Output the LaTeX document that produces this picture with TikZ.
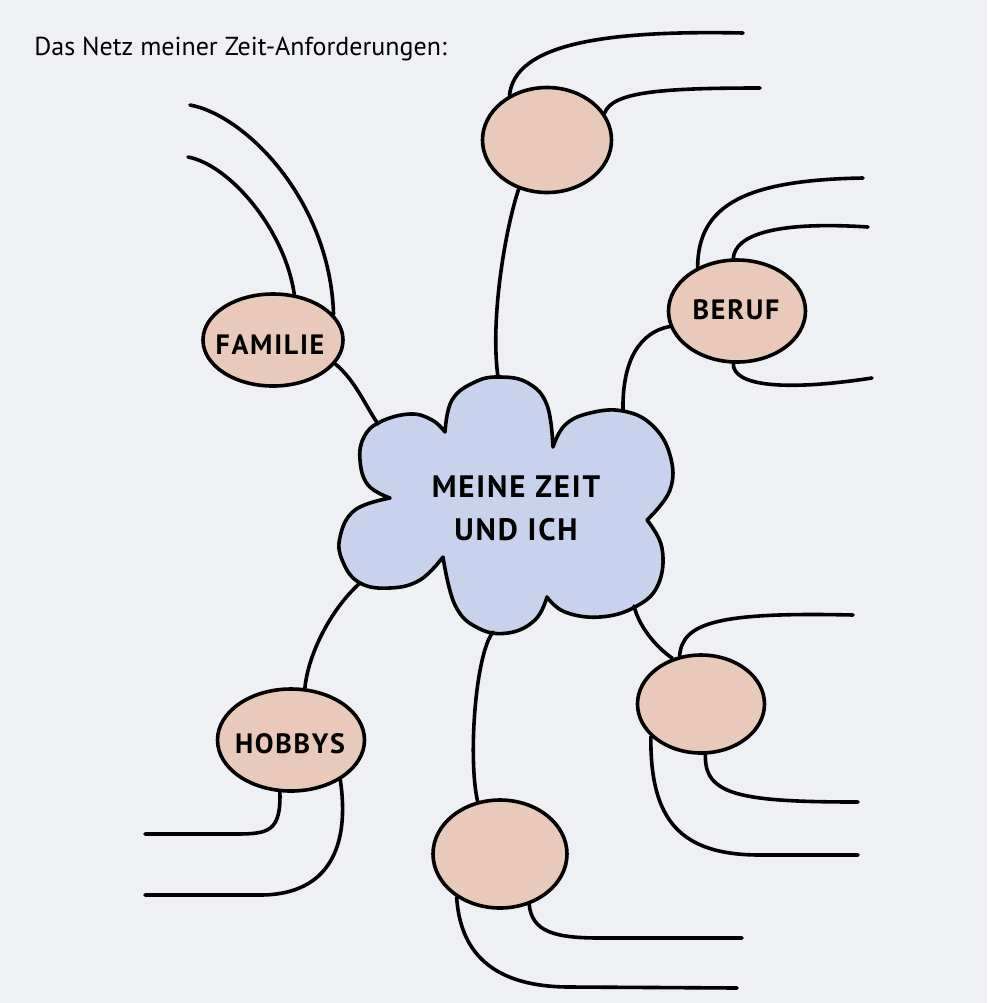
\documentclass[tikz,border=0pt]{standalone}
\usepackage{fontspec}
\setmainfont{PT Sans}
\newfontfamily\labfont[LetterSpace=6]{PT Sans}
\usetikzlibrary{shapes.geometric}
\definecolor{bg}{HTML}{EEF0F4}
\definecolor{pinkfill}{HTML}{E8C9BA}
\definecolor{cloudfill}{HTML}{C8D2EC}
\begin{document}
\begin{tikzpicture}[x=0.5pt,y=-0.5pt, line cap=round, line join=round,
  ell/.style={ellipse, draw, fill=pinkfill, line width=1.8pt, inner sep=0pt},
  lab/.style={inner sep=0pt, font=\labfont\fontsize{14}{16}\selectfont\bfseries},
  conn/.style={line width=1.8pt},
  cloudline/.style={draw, fill=cloudfill, line width=1.8pt}]
\fill[bg] (0,0) rectangle (987,1003);
\useasboundingbox (0,0) rectangle (987,1003);

% title
\node[anchor=base west, inner sep=0pt, font=\fontsize{13}{15}\selectfont] (title) at (34,55) {Das Netz meiner Zeit-Anforderungen:};

% cloud
\path[cloudline]
  plot[smooth, tension=0.7] coordinates {(390,498) (368,485) (360,460) (364,437) (380,422) (410,414) (432,420) (445,432)}
  -- plot[smooth, tension=0.7] coordinates {(445,432) (452,400) (475,382) (500,377) (528,383) (547,405) (553,447)}
  -- plot[smooth, tension=0.7] coordinates {(553,447) (565,425) (590,413) (623,411) (652,425) (670,455) (670,490) (647,520)}
  -- plot[smooth, tension=0.7] coordinates {(647,520) (662,548) (658,585) (635,607) (600,617) (565,612) (547,597)}
  -- plot[smooth, tension=0.7] coordinates {(547,597) (535,620) (508,633) (478,628) (455,605) (443,557)}
  -- plot[smooth, tension=0.7] coordinates {(443,557) (420,580) (390,588) (360,583) (343,562) (340,537) (355,510) (390,498)}
  -- cycle;
\node[align=center, inner sep=0pt, font=\labfont\fontsize{15.5}{21.5}\selectfont\bfseries] (cloud) at (516,508) {MEINE ZEIT\\UND ICH};

% cloud attachment points
\coordinate (cT) at (498,377);
\coordinate (cF) at (378,424);
\coordinate (cB) at (623,411);
\coordinate (cH) at (360,583);
\coordinate (cR) at (634,606);
\coordinate (cD) at (493,632);

% ellipses
\node[ell, minimum width=64.5pt, minimum height=52.5pt] (T) at (547,140) {};
\node[ell, minimum width=70pt, minimum height=46pt] (F) at (273,340) {};
\node[ell, minimum width=68.5pt, minimum height=51pt] (B) at (737,311) {};
\node[ell, minimum width=73.5pt, minimum height=51pt] (H) at (291,740) {};
\node[ell, minimum width=63.5pt, minimum height=49pt] (R) at (701,704) {};
\node[ell, minimum width=67pt, minimum height=54pt] (D) at (500,854) {};
\node[lab] (Flab) at (270,345) {FAMILIE};
\node[lab] (Blab) at (736,310) {BERUF};
\node[lab] (Hlab) at (290,744) {HOBBYS};

% free ends
\coordinate (t1) at (743,33);
\coordinate (t2) at (760,88);
\coordinate (f1) at (190,105);
\coordinate (f2) at (188,157);
\coordinate (b1) at (863,178);
\coordinate (b2) at (868,227);
\coordinate (b3) at (872,378);
\coordinate (h1) at (145,834);
\coordinate (h2) at (145,895);
\coordinate (r1) at (853,615);
\coordinate (r2) at (858,802);
\coordinate (r3) at (858,855);
\coordinate (d1) at (742,938);
\coordinate (d2) at (737,988);

% top
\draw[conn] (T.130) .. controls (515,45) and (600,30) .. (t1);
\draw[conn] (T.25) .. controls (612,92) and (660,88) .. (t2);
\draw[conn] (T.240) .. controls (505,230) and (490,320) .. (cT);
% familie
\draw[conn] (f1) .. controls (245,115) and (330,200) .. (F.23);
\draw[conn] (f2) .. controls (230,165) and (285,230) .. (F.65);
\draw[conn] (F.-21) .. controls (355,380) and (365,405) .. (cF);
% beruf
\draw[conn] (B.132) .. controls (698,205) and (745,180) .. (b1);
\draw[conn] (B.94) .. controls (735,235) and (775,221) .. (b2);
\draw[conn] (B.266) .. controls (733,385) and (780,392) .. (b3);
\draw[conn] (B.193) .. controls (640,332) and (622,360) .. (cB);
% hobbys
\draw[conn] (H.75) .. controls (308,655) and (330,610) .. (cH);
\draw[conn] (H.258) .. controls (281,832) and (268,834) .. (235,834) -- (h1);
\draw[conn] (H.321) .. controls (350,845) and (330,895) .. (260,895) -- (h2);
% bottom right
\draw[conn] (cR) .. controls (640,630) and (660,650) .. (R.122);
\draw[conn] (R.114) .. controls (682,622) and (720,612) .. (r1);
\draw[conn] (R.275) .. controls (704,795) and (740,802) .. (r2);
\draw[conn] (R.213) .. controls (650,820) and (680,855) .. (760,855) -- (r3);
% bottom
\draw[conn] (cD) .. controls (475,655) and (468,760) .. (D.113);
\draw[conn] (D.300) .. controls (532,932) and (555,938) .. (600,938) -- (d1);
\draw[conn] (D.225) .. controls (460,950) and (490,987) .. (570,987) -- (d2);
\end{tikzpicture}
\end{document}
